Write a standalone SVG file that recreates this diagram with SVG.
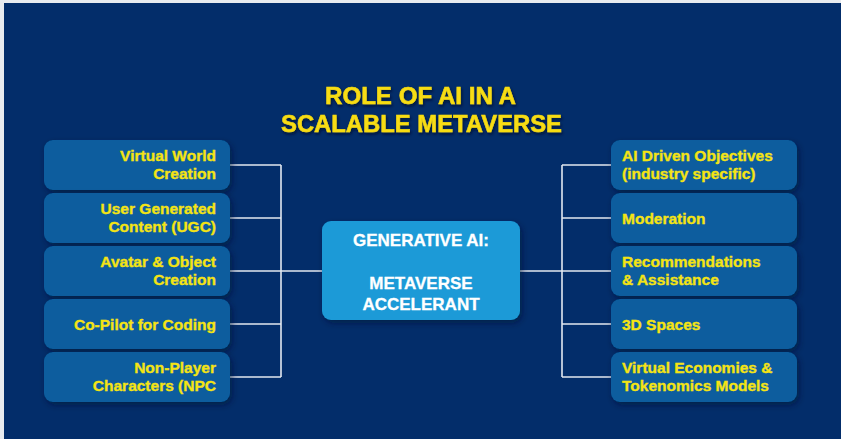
<svg xmlns="http://www.w3.org/2000/svg" width="841" height="439" viewBox="0 0 841 439">
  <defs>
    <filter id="boxShadow" x="-10%" y="-20%" width="125%" height="150%">
      <feDropShadow dx="2" dy="3" stdDeviation="3" flood-color="#001433" flood-opacity="0.55"/>
    </filter>
    <filter id="titleShadow" x="-5%" y="-30%" width="110%" height="170%">
      <feDropShadow dx="1" dy="2" stdDeviation="1.5" flood-color="#000c26" flood-opacity="0.8"/>
    </filter>
    <style>
      .bg { fill: #032d6a; }
      .item { fill: #0a5d9e; filter: url(#boxShadow); }
      .hub { fill: #1b9ad7; filter: url(#boxShadow); }
      .lbl { font-family: "Liberation Sans", Arial, sans-serif; font-weight: 700; font-size: 15.5px; fill: #f4e414; stroke: #f4e414; stroke-width: 0.35; }
      .lbl-l { text-anchor: end; }
      .lbl-r { text-anchor: start; }
      .hub-lbl { font-family: "Liberation Sans", Arial, sans-serif; font-weight: 700; font-size: 17px; fill: #ffffff; stroke: #ffffff; stroke-width: 0.3; text-anchor: middle; }
      .title { font-family: "Liberation Sans", Arial, sans-serif; font-weight: 700; font-size: 23px; fill: #f7dc12; stroke: #f7dc12; stroke-width: 0.5; filter: url(#titleShadow); }
      .wire { fill: none; stroke: #e3e8f0; stroke-width: 1.6; }
    </style>
  </defs>

  <!-- page frame and background -->
  <rect x="0" y="0" width="841" height="439" fill="#e8ebef"/>
  <rect class="bg" x="4" y="3" width="837" height="436"/>

  <!-- heading -->
  <g id="title">
    <text class="title" x="325" y="104" textLength="191" lengthAdjust="spacingAndGlyphs">ROLE OF AI IN A</text>
    <text class="title" x="281" y="132" textLength="281" lengthAdjust="spacingAndGlyphs">SCALABLE METAVERSE</text>
  </g>

  <!-- connectors -->
  <g id="connectors">
    <path class="wire" d="M230 165 H281 M230 218 H281 M230 271 H281 M230 324 H281 M230 377 H281 M281 165 V377 M281 271 H322"/>
    <path class="wire" d="M611 165 H562 M611 218 H562 M611 271 H562 M611 324 H562 M611 377 H562 M562 165 V377 M562 271 H520"/>
  </g>

  <!-- central hub -->
  <g id="hub">
    <rect class="hub" x="322" y="221" width="198" height="99" rx="9"/>
    <text class="hub-lbl" x="421" y="246">GENERATIVE AI:</text>
    <text class="hub-lbl" x="421" y="289">METAVERSE</text>
    <text class="hub-lbl" x="421" y="310">ACCELERANT</text>
  </g>

  <!-- left column -->
  <g id="virtual-world-creation">
    <rect class="item" x="44" y="140" width="186" height="50" rx="9"/>
    <text class="lbl lbl-l" x="216" y="161">Virtual World</text>
    <text class="lbl lbl-l" x="216" y="179">Creation</text>
  </g>
  <g id="user-generated-content">
    <rect class="item" x="44" y="193" width="186" height="50" rx="9"/>
    <text class="lbl lbl-l" x="216" y="214">User Generated</text>
    <text class="lbl lbl-l" x="216" y="232">Content (UGC)</text>
  </g>
  <g id="avatar-object-creation">
    <rect class="item" x="44" y="246" width="186" height="50" rx="9"/>
    <text class="lbl lbl-l" x="216" y="267">Avatar &amp; Object</text>
    <text class="lbl lbl-l" x="216" y="285">Creation</text>
  </g>
  <g id="co-pilot-coding">
    <rect class="item" x="44" y="299" width="186" height="50" rx="9"/>
    <text class="lbl lbl-l" x="216" y="329.5">Co-Pilot for Coding</text>
  </g>
  <g id="non-player-characters">
    <rect class="item" x="44" y="352" width="186" height="50" rx="9"/>
    <text class="lbl lbl-l" x="216" y="373">Non-Player</text>
    <text class="lbl lbl-l" x="216" y="391">Characters (NPC</text>
  </g>

  <!-- right column -->
  <g id="ai-driven-objectives">
    <rect class="item" x="611" y="140" width="186" height="50" rx="9"/>
    <text class="lbl lbl-r" x="622" y="161">AI Driven Objectives</text>
    <text class="lbl lbl-r" x="622" y="179">(industry specific)</text>
  </g>
  <g id="moderation">
    <rect class="item" x="611" y="193" width="186" height="50" rx="9"/>
    <text class="lbl lbl-r" x="622" y="223.5">Moderation</text>
  </g>
  <g id="recommendations-assistance">
    <rect class="item" x="611" y="246" width="186" height="50" rx="9"/>
    <text class="lbl lbl-r" x="622" y="267">Recommendations</text>
    <text class="lbl lbl-r" x="622" y="285">&amp; Assistance</text>
  </g>
  <g id="spaces-3d">
    <rect class="item" x="611" y="299" width="186" height="50" rx="9"/>
    <text class="lbl lbl-r" x="622" y="329.5">3D Spaces</text>
  </g>
  <g id="virtual-economies">
    <rect class="item" x="611" y="352" width="186" height="50" rx="9"/>
    <text class="lbl lbl-r" x="622" y="373">Virtual Economies &amp;</text>
    <text class="lbl lbl-r" x="622" y="391">Tokenomics Models</text>
  </g>
</svg>
